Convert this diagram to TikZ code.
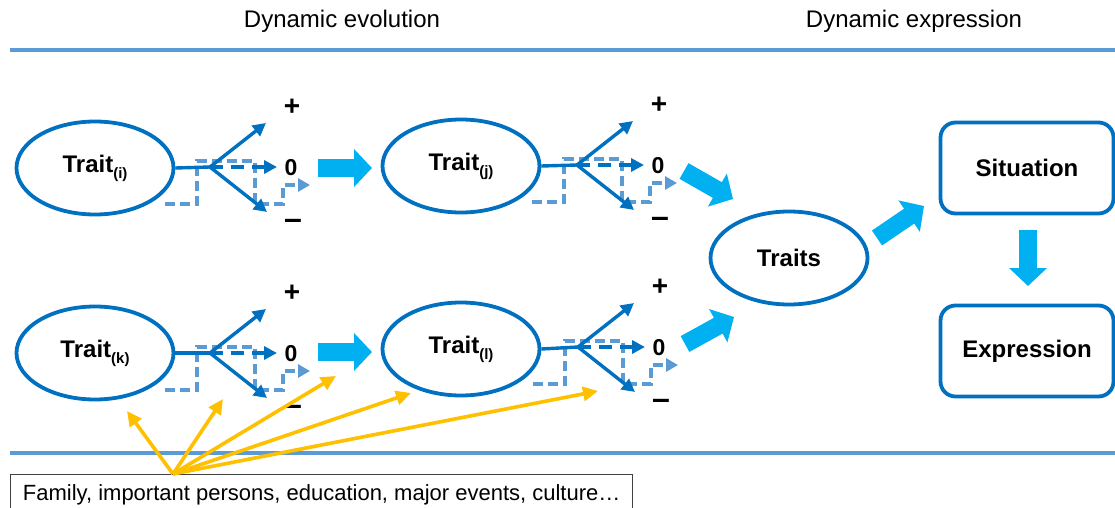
\documentclass[tikz,border=0pt]{standalone}
\usepackage{fontspec}
\setmainfont{Liberation Sans}
\usetikzlibrary{arrows.meta,shapes.geometric}

\definecolor{traitblue}{HTML}{0070C0}
\definecolor{lineblue}{HTML}{5B9BD5}
\definecolor{flowblue}{HTML}{00B0F0}
\definecolor{gold}{HTML}{FFC000}

% subscript index of a trait, e.g. Trait_(i)
\newcommand\trsub[1]{\raisebox{-6pt}{\fontsize{15}{15}\selectfont(#1)}}

% a fork with its three outcomes (+, 0, -) and the stair-shaped trajectory
% #1 = name of the fork, #2 = fork position
\newcommand\outcomefork[2]{%
  \coordinate (#1) at #2;
  \begin{scope}[shift={#2}]
    \coordinate (#1-up)  at (56,-44);
    \coordinate (#1-mid) at (67,0);
    \coordinate (#1-dn)  at (57,45);
    \coordinate (#1-s0)  at (-45,37);
    \coordinate (#1-s1)  at (100,18);
    \node[sign, font=\bfseries\fontsize{28}{30}\selectfont] (#1-plus) at (82,-60) {+};
    \node[sign] (#1-zero)  at (81,1)   {0};
    \node[sign, font=\bfseries\fontsize{32}{32}\selectfont] (#1-minus) at (83,57) {–};
    \draw[stairs] (#1-s0) -- ++(32,0) |- (45,-6) |- (73,37) |- (#1-s1);
  \end{scope}
  \draw[branch] (#1) -- (#1-up);
  \draw[branch, dash pattern=on 13pt off 8pt] (#1) -- (#1-mid);
  \draw[branch] (#1) -- (#1-dn);
}

\begin{document}
\begin{tikzpicture}[x=1pt, y=-1pt,
  trait/.style={ellipse, draw=traitblue, line width=3.8pt, minimum width=157pt,
    minimum height=93pt, inner sep=0pt, font=\bfseries\fontsize{24}{28}\selectfont},
  panel/.style={draw=traitblue, line width=3.8pt, rounded corners=15pt,
    minimum width=173pt, minimum height=91pt, inner sep=0pt,
    font=\bfseries\fontsize{24}{28}\selectfont},
  sign/.style={inner sep=0pt, font=\bfseries\fontsize{23}{26}\selectfont},
  stem/.style={traitblue, line width=3.4pt},
  branch/.style={traitblue, line width=3.4pt, -{Triangle[length=13pt,width=13pt]}},
  stairs/.style={lineblue, line width=3.4pt, dash pattern=on 10pt off 5pt,
    -{Triangle[length=12pt,width=13pt]}},
  flow/.style={flowblue, line width=18pt, -{Triangle[length=18pt,width=37pt]}},
  influence/.style={gold, line width=3.6pt, -{Triangle[length=15pt,width=14pt]}},
  rule/.style={lineblue, line width=3.6pt},
  heading/.style={inner sep=0pt, font=\fontsize{24}{28}\selectfont}]

\clip (0,0) rectangle (1115,508);
\fill[white] (0,0) rectangle (1115,508);

% section headings and separating rules
\node[heading] (hevo) at (342,21) {Dynamic evolution};
\node[heading] (hexp) at (914,21) {Dynamic expression};
\coordinate (rt0) at (10,50);   \coordinate (rt1) at (1115,50);
\coordinate (rb0) at (10,453);  \coordinate (rb1) at (1115,453);
\draw[rule] (rt0) -- (rt1);
\draw[rule] (rb0) -- (rb1);

% traits and their evolution
\node[trait] (ti) at (95,168)  {Trait\trsub{i}};
\node[trait] (tj) at (461,166) {Trait\trsub{j}};
\node[trait] (tk) at (95,353)  {Trait\trsub{k}};
\node[trait] (tl) at (461,349) {Trait\trsub{l}};

\outcomefork{fi}{(210,167)}
\outcomefork{fj}{(577,165)}
\outcomefork{fk}{(210,353)}
\outcomefork{fl}{(578,347)}

\draw[stem] (ti.east) -- (fi);
\draw[stem] (tj.east) -- (fj);
\draw[stem] (tk.east) -- (fk);
\draw[stem] (tl.east) -- (fl);

% expression side
\node[trait] (traits) at (789,258) {Traits};
\node[panel] (sit) at (1027,168) {Situation};
\node[panel] (expr) at (1027,351) {Expression};

% broad flow arrows
\coordinate (a1s) at (318,168); \coordinate (a1e) at (372,168);
\coordinate (a2s) at (318,352); \coordinate (a2e) at (372,352);
\coordinate (a3s) at (684,171); \coordinate (a3e) at (733,199);
\coordinate (a4s) at (685,344); \coordinate (a4e) at (734,317);
\coordinate (a5s) at (877,238); \coordinate (a5e) at (924,206);
\coordinate (a6s) at (1028,230); \coordinate (a6e) at (1028,286);
\draw[flow] (a1s) -- (a1e);
\draw[flow] (a2s) -- (a2e);
\draw[flow] (a3s) -- (a3e);
\draw[flow] (a4s) -- (a4e);
\draw[flow] (a5s) -- (a5e);
\draw[flow] (a6s) -- (a6e);

% environmental influences
\node[draw=black!75, line width=1.4pt, anchor=north west, minimum width=622pt,
  inner ysep=0pt, text height=26pt, text depth=14pt,
  font=\fontsize{22}{26}\selectfont] (infl) at (10,474)
  {Family, important persons, education, major events, culture…};
\coordinate (src) at (173,474);
\coordinate (g1) at (127,411);
\coordinate (g2) at (223,399);
\coordinate (g3) at (336,376);
\coordinate (g4) at (411,393);
\coordinate (g5) at (598,391);
\foreach \g in {g1,g2,g3,g4,g5}
  \draw[influence] (src) -- (\g);

\end{tikzpicture}
\end{document}
